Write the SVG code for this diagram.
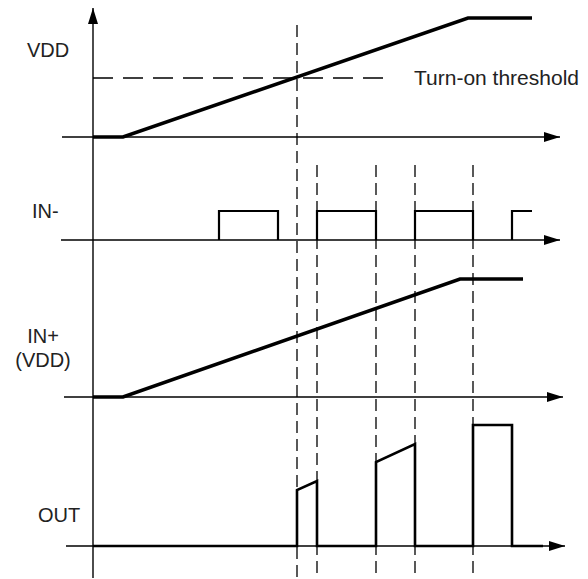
<svg xmlns="http://www.w3.org/2000/svg" width="588" height="579" viewBox="0 0 588 579">
  <style>
    .axis { stroke: #000; stroke-width: 1.4; fill: none; }
    .guide { stroke: #000; stroke-width: 1.3; fill: none; stroke-dasharray: 12 6; }
    .thr { stroke: #000; stroke-width: 1.6; fill: none; stroke-dasharray: 20 10; }
    .ramp { stroke: #000; stroke-width: 3.5; fill: none; stroke-linejoin: miter; }
    .pulse { stroke: #000; stroke-width: 2.2; fill: none; }
    .out { stroke: #000; stroke-width: 2.6; fill: none; }
    .lbl { font-family: "Liberation Sans", Arial, sans-serif; font-size: 20px; fill: #222; }
  </style>
  <defs>
    <marker id="arr" viewBox="0 0 16 10" refX="16" refY="5" markerWidth="16" markerHeight="10" markerUnits="userSpaceOnUse" orient="auto">
      <path d="M0,0 L16,5 L0,10 z" fill="#000"/>
    </marker>
  </defs>
  <rect width="588" height="579" fill="#fff"/>

  <g id="connectors">
    <line class="axis" x1="93" y1="578" x2="93" y2="8" marker-end="url(#arr)"/>
    <line class="axis" x1="62" y1="137" x2="560" y2="137" marker-end="url(#arr)"/>
    <line class="axis" x1="61" y1="240" x2="560" y2="240" marker-end="url(#arr)"/>
    <line class="axis" x1="64" y1="397" x2="563" y2="397" marker-end="url(#arr)"/>
    <line class="axis" x1="66" y1="546" x2="565" y2="546" marker-end="url(#arr)"/>
    <line class="guide" x1="297" y1="25" x2="297" y2="579"/>
    <line class="guide" x1="317" y1="165" x2="317" y2="579"/>
    <line class="guide" x1="376" y1="165" x2="376" y2="579"/>
    <line class="guide" x1="415" y1="165" x2="415" y2="579"/>
    <line class="guide" x1="473" y1="165" x2="473" y2="579"/>
    <line class="thr" x1="93" y1="78" x2="392" y2="78"/>
  </g>

  <g id="vdd">
    <path class="ramp" d="M93,137 L123,137 L468,18 L532,18"/>
    <text class="lbl" x="27" y="57">VDD</text>
    <text class="lbl" x="414" y="85" style="font-size:21px">Turn-on threshold</text>
  </g>

  <g id="in-minus">
    <path class="pulse" d="M219,240 V211 H278 V240 M317,240 V211 H376 V240 M415,240 V211 H473 V240 M512,240 V211 H532"/>
    <text class="lbl" x="32" y="218">IN-</text>
  </g>

  <g id="in-plus">
    <path class="ramp" d="M93,397 L123,397 L460,279 L523,279"/>
    <text class="lbl" x="43" y="343" text-anchor="middle">IN+</text>
    <text class="lbl" x="43" y="367" text-anchor="middle">(VDD)</text>
  </g>

  <g id="out">
    <path class="out" d="M93,546 H297 V490 L317,481 V546 H376 V462 L415,444 V546 H473 V425 H512 V546 H543"/>
    <text class="lbl" x="38" y="522">OUT</text>
  </g>
</svg>
